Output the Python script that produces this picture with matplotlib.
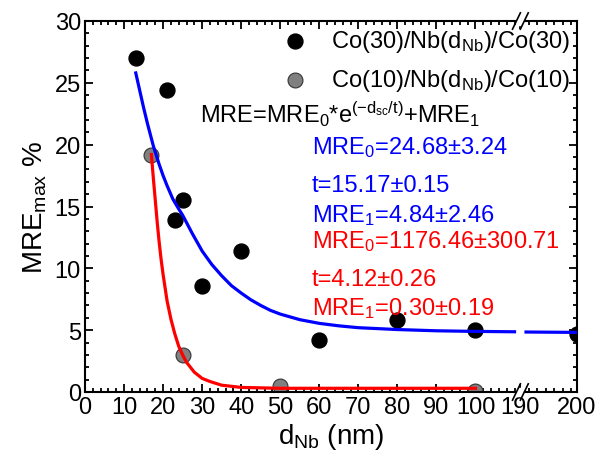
import numpy as np
import matplotlib
matplotlib.use("Agg")
import matplotlib.pyplot as plt
from matplotlib.ticker import FixedLocator, NullFormatter

plt.rcParams['font.family'] = ['Liberation Sans', 'DejaVu Sans']
plt.rcParams['mathtext.default'] = 'regular'

# data
co30_d = [13, 21, 23, 25, 30, 40, 60, 80, 100, 200]
co30_mre = [27.0, 24.4, 13.9, 15.5, 8.6, 11.4, 4.2, 5.8, 5.0, 4.7]
co10_d = [17, 25, 50, 100]
co10_mre = [19.2, 3.0, 0.5, 0.1]

# fit curves
fit30_d = [13, 14, 15, 16, 17.5, 19, 20, 21, 22.5, 24, 25, 27.5, 30, 32.5, 35, 37.5, 40,
           42.5, 45, 47.5, 50, 55, 60, 65, 70, 80, 90, 100, 110]
fit30_mre = [25.8, 24.4, 23.0, 21.7, 19.9, 18.4, 17.5, 16.7, 15.6, 14.8, 14.3, 12.8, 11.4,
             10.3, 9.4, 8.6, 8.0, 7.45, 7.0, 6.6, 6.3, 5.85, 5.55, 5.35, 5.2, 5.05, 4.95,
             4.9, 4.87]
fit30_d_right = [191, 200]
fit30_mre_right = [4.85, 4.82]
fit10_d = [17, 17.5, 18, 18.5, 19, 19.5, 20, 21, 22, 23, 24, 25, 26, 27, 28, 30, 32, 35,
           40, 50, 100]
fit10_mre = [19.2, 17.3, 15.5, 13.7, 12.1, 10.7, 9.5, 7.4, 5.9, 4.7, 3.7, 3.0, 2.4, 2.0,
             1.6, 1.1, 0.85, 0.55, 0.37, 0.3, 0.3]

xticks = [0, 10, 20, 30, 40, 50, 60, 70, 80, 90, 100, 190, 200]
fit_blue = ['MRE$_0$=24.68±3.24', 't=15.17±0.15', 'MRE$_1$=4.84±2.46']
fit_red = ['MRE$_0$=1176.46±300.71', 't=4.12±0.26', 'MRE$_1$=0.30±0.19']

# broken x axis: 0..111.5 then 190..200
B = 111.5
R0 = 190
S = 1.45


def fwd(x):
    x = np.asarray(x, float)
    return np.where(x <= B, x, np.where(x >= R0, B + (x - R0) * S, B))


def inv(y):
    y = np.asarray(y, float)
    return np.where(y <= B, y, R0 + (y - B) / S)


fig = plt.figure(figsize=(6.02, 4.64), dpi=100)
ax = fig.add_axes([85 / 602, 1 - 393 / 464, 492 / 602, 371 / 464])
ax.set_xscale('function', functions=(fwd, inv))

ax.scatter(co30_d, co30_mre, s=115, color='black', zorder=2,
           label='Co(30)/Nb(d$_{Nb}$)/Co(30)')
ax.scatter(co10_d, co10_mre, s=115, color='#808080', edgecolor='#333333', linewidth=0.8,
           zorder=2, label='Co(10)/Nb(d$_{Nb}$)/Co(10)')
ax.plot(fit30_d, fit30_mre, color='blue', lw=2.3, zorder=3)
ax.plot(fit30_d_right, fit30_mre_right, color='blue', lw=2.3, zorder=3)
ax.plot(fit10_d, fit10_mre, color='red', lw=2.3, zorder=3)

ax.set_xlim(0, 200)
ax.set_ylim(0, 30)
ax.xaxis.set_major_locator(FixedLocator(xticks))
ax.xaxis.set_minor_locator(FixedLocator(list(range(2, 111, 2)) +
                                        [191.5, 193, 194.5, 196, 197.5, 199]))
ax.set_yticks(range(0, 31, 5))
ax.yaxis.set_minor_locator(FixedLocator(range(0, 31)))
ax.xaxis.set_minor_formatter(NullFormatter())
ax.set_xticklabels([str(t) for t in xticks])
ax.tick_params(which='both', direction='in', top=True, right=True, width=1.3,
               labelsize=17, pad=3)
ax.tick_params(which='major', length=6)
ax.tick_params(which='minor', length=3)
for s in ax.spines.values():
    s.set_linewidth(1.5)

ax.set_xlabel('d$_{Nb}$ (nm)', fontsize=20, labelpad=2)
ax.set_ylabel('MRE$_{max}$ %', fontsize=20, labelpad=4)

# break marks
bx = fwd(B) / fwd(200)
for yb in (0, 1):
    ax.add_patch(plt.Rectangle((bx - 0.006, yb - 0.01), 0.012, 0.02, transform=ax.transAxes,
                               color='white', clip_on=False, zorder=5))
    for dx in (-0.008, 0.008):
        ax.plot([bx + dx - 0.008, bx + dx + 0.008], [yb - 0.022, yb + 0.022],
                transform=ax.transAxes, color='black', lw=1.2, clip_on=False, zorder=6)

ax.legend(loc='upper right', frameon=False, fontsize=17, handletextpad=0.9,
          labelspacing=0.55, borderaxespad=0.1, borderpad=0.2, handlelength=1.2)

ax.text(0.234, 0.728, 'MRE=MRE$_0$*e$^{(-d_{sc}/t)}$+MRE$_1$', transform=ax.transAxes,
        fontsize=17, va='baseline')
for txt, yy in zip(fit_blue, [0.644, 0.542, 0.461]):
    ax.text(0.461, yy, txt, transform=ax.transAxes, fontsize=17, color='blue', va='baseline')
for txt, yy in zip(fit_red, [0.391, 0.288, 0.210]):
    ax.text(0.461, yy, txt, transform=ax.transAxes, fontsize=17, color='red', va='baseline')

fig.savefig('out.png', dpi=100)
